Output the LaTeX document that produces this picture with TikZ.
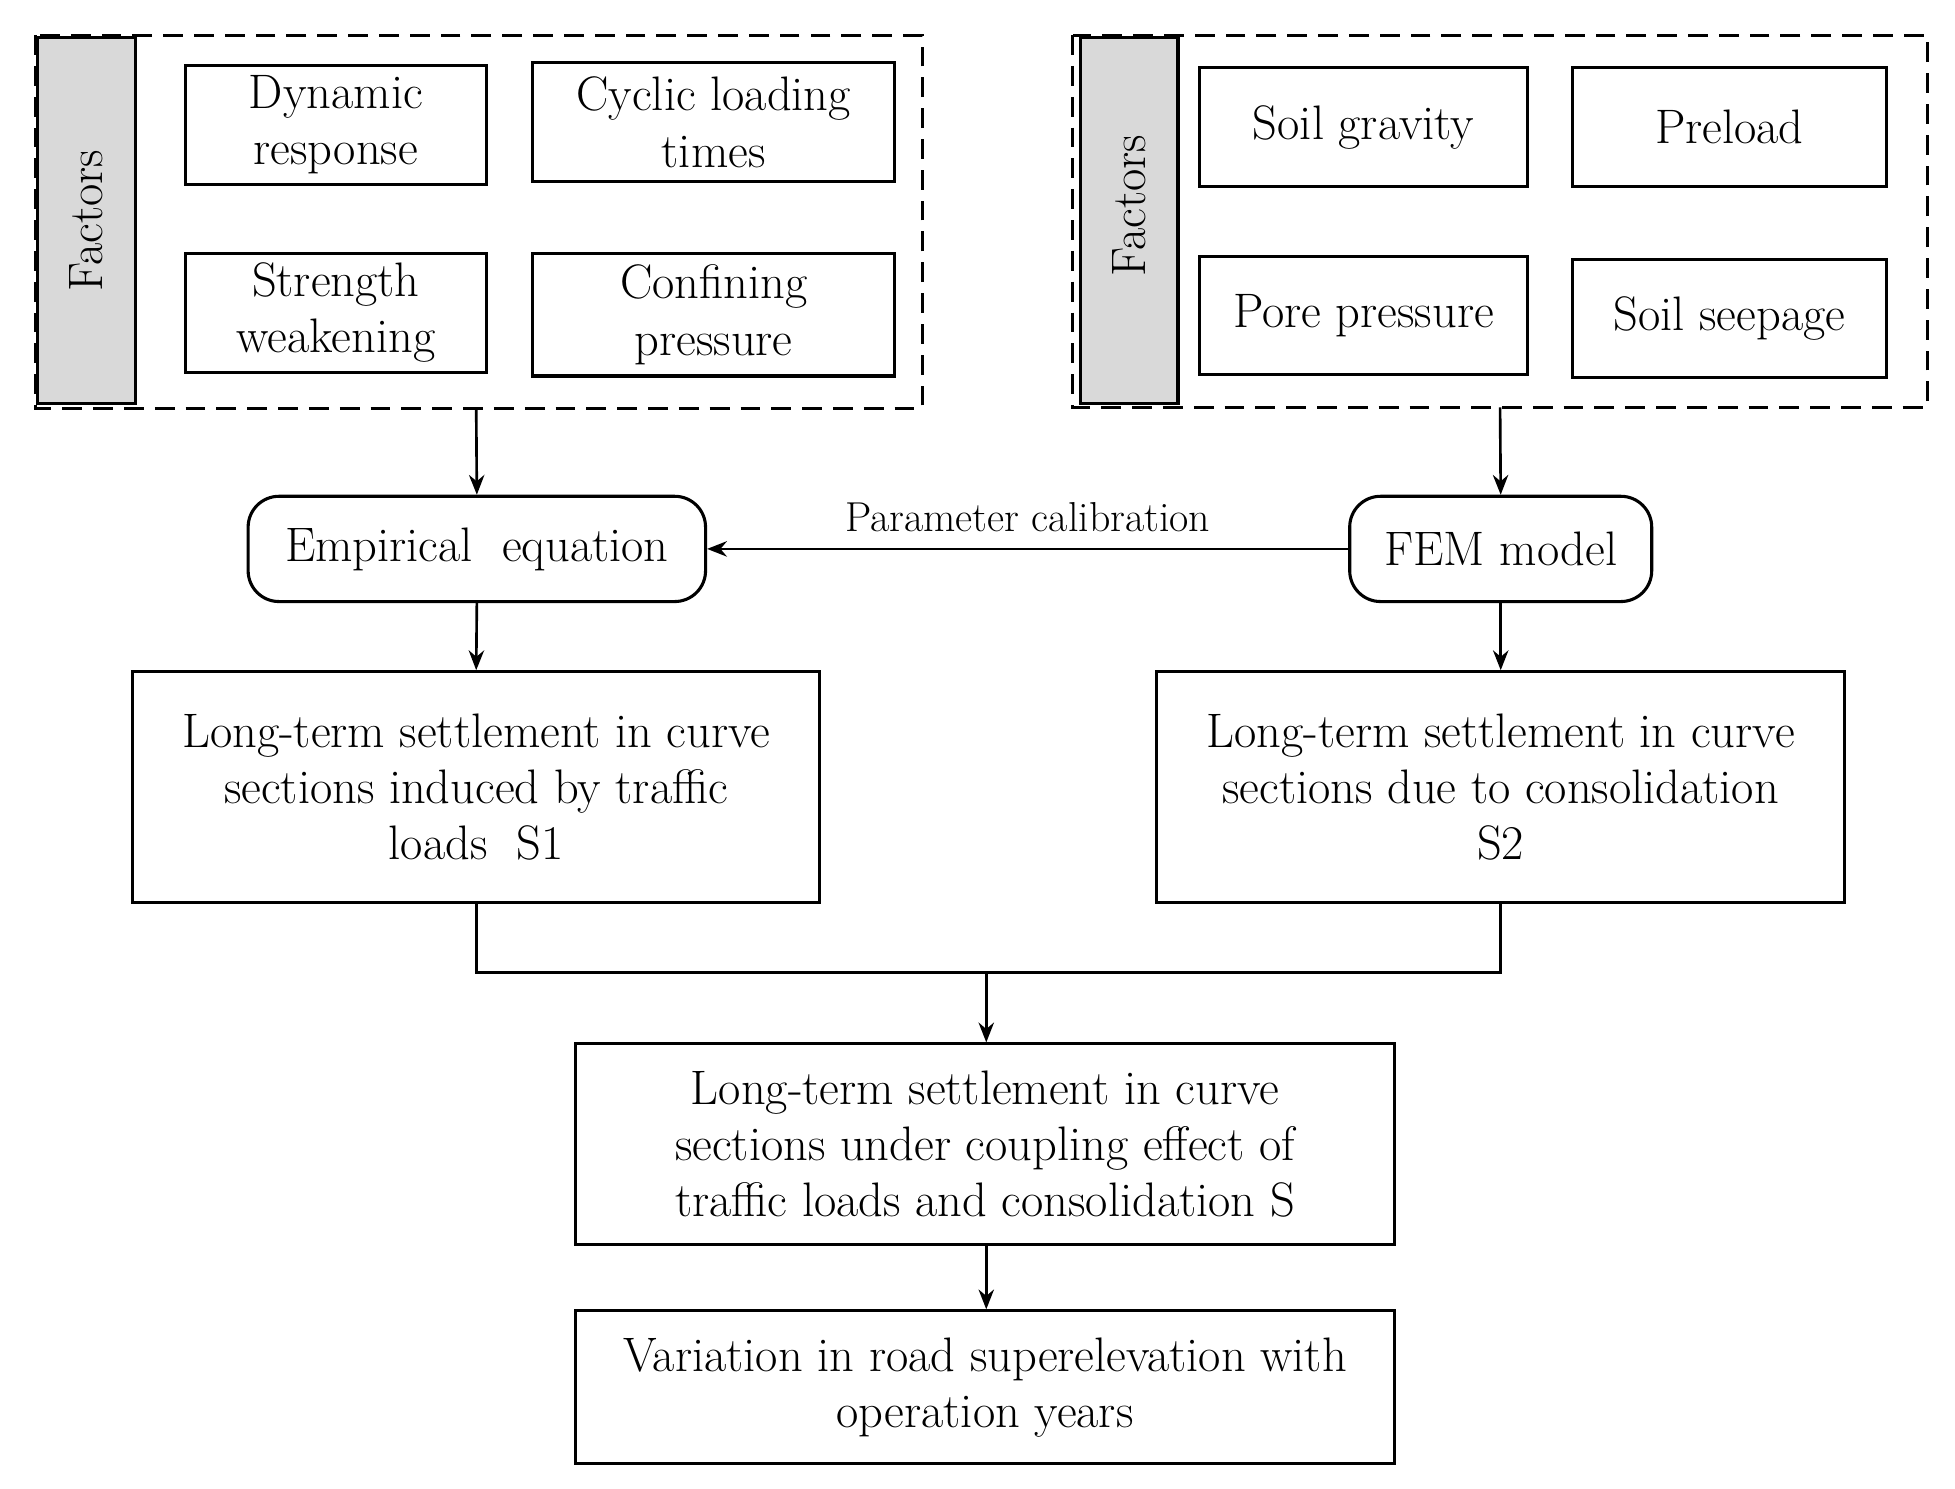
\documentclass[tikz,border=0pt]{standalone}
\usetikzlibrary{arrows.meta}
\begin{document}
\begin{tikzpicture}[x=0.02cm,y=-0.02cm,
  txt/.style={font=\fontsize{22}{25.6}\selectfont,align=center},
  box/.style={draw,line width=1.4pt,txt,inner sep=0pt},
  arr/.style={-{Stealth[length=9pt,width=7pt]},line width=1.2pt},
  dashbox/.style={draw,line width=1.4pt,dash pattern=on 9pt off 5pt},
  graybox/.style={draw,line width=1.4pt,fill=gray!30}]
\useasboundingbox (0,0) rectangle (1560,1188);
% left group
\draw[dashbox] (28,28) rectangle (736,326);
\draw[graybox] (30,30) rectangle (108,322);
\node[txt,rotate=90] (fl) at (69,176) {Factors};
\draw[line width=1.4pt] (148,52) rectangle (388,147); \node[txt] (a1) at (268,99.5) {Dynamic\\response};
\draw[line width=1.4pt] (425,50) rectangle (714,145); \node[txt] (a2) at (569.5,97.5) {Cyclic loading\\times};
\draw[line width=1.4pt] (148,202) rectangle (388,297); \node[txt] (a3) at (268,249.5) {Strength\\weakening};
\draw[line width=1.4pt] (425,202) rectangle (714,300); \node[txt] (a4) at (569.5,251) {Confining\\pressure};
\coordinate (lb) at (380,326);
% right group
\draw[dashbox] (856,28) rectangle (1538,325);
\draw[graybox] (862,30) rectangle (940,322);
\node[txt,rotate=90] (fr) at (901,164) {Factors};
\draw[line width=1.4pt] (957,54) rectangle (1219,149); \node[txt] (b1) at (1088,101.5) {Soil gravity};
\draw[line width=1.4pt] (1255,54) rectangle (1505,149); \node[txt] (b2) at (1380,101.5) {Preload};
\draw[line width=1.4pt] (957,205) rectangle (1219,299); \node[txt] (b3) at (1088,252) {Pore pressure};
\draw[line width=1.4pt] (1255,207) rectangle (1505,301); \node[txt] (b4) at (1380,254) {Soil seepage};
\coordinate (rb) at (1197,325);
% middle
\node[box,rounded corners=14pt,minimum width=365*0.02cm,minimum height=84*0.02cm] (emp) at (380.5,438) {Empirical\ \ equation};
\node[box,rounded corners=14pt,minimum width=241*0.02cm,minimum height=84*0.02cm] (fem) at (1197.5,438) {FEM model};
\node[box,minimum width=548*0.02cm,minimum height=184*0.02cm] (s1) at (380,628) {Long-term settlement in curve\\sections induced by traffic\\loads\ \ S1};
\node[box,minimum width=549*0.02cm,minimum height=184*0.02cm] (s2) at (1197.5,628) {Long-term settlement in curve\\sections due to consolidation\\S2};
\node[box,minimum width=654*0.02cm,minimum height=160*0.02cm] (s) at (786,913) {Long-term settlement in curve\\sections under coupling effect of\\traffic loads and consolidation S};
\node[box,minimum width=654*0.02cm,minimum height=122*0.02cm] (v) at (786,1107) {Variation in road superelevation with\\operation years};
\draw[arr] (lb) -- (emp.north);
\draw[arr] (rb) -- (fem.north);
\draw[arr] (fem.west) -- node[txt,above=4pt,font=\fontsize{19}{22}\selectfont] (pc) {Parameter calibration} (emp.east);
\draw[arr] (emp.south) -- (s1.north);
\draw[arr] (fem.south) -- (s2.north);
\coordinate (j) at (787,776);
\draw[line width=1.2pt] (s1.south) -- (380,776) -- (1197.5,776) -- (s2.south);
\draw[arr] (j) -- (s.north -| j);
\draw[arr] (s.south -| j) -- (v.north -| j);
\end{tikzpicture}
\end{document}
